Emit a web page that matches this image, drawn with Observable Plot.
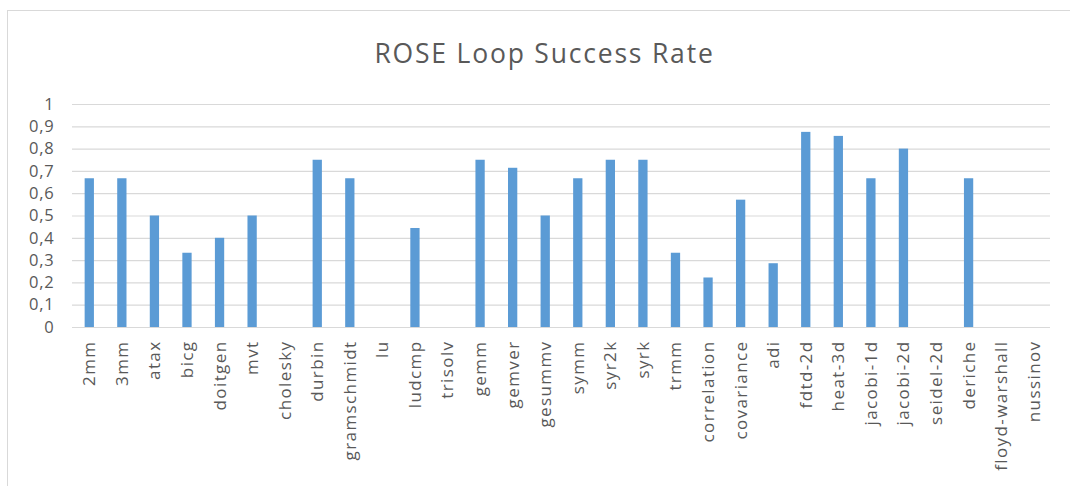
<!DOCTYPE html>
<html>
<head>
<meta charset="utf-8">
<script src="https://cdn.jsdelivr.net/npm/d3@7"></script>
<script src="https://cdn.jsdelivr.net/npm/@observablehq/plot@0.6"></script>
<style>
  html, body { margin: 0; padding: 0; background: #fff; overflow: hidden; }
  #wrap { position: relative; width: 1070px; height: 486px; }
  #border { position: absolute; left: 7px; top: 10px; width: 1100px; height: 500px;
            border: 1px solid #d9d9d9; box-sizing: border-box; }
  #chart { position: absolute; left: 0; top: 0; }
  .title-mark text { letter-spacing: 1.8px; }
  .x-ticks text { letter-spacing: 1.4px; }
  .y-ticks text { letter-spacing: 0.8px; }
</style>
</head>
<body>
<div id="wrap">
  <div id="border"></div>
  <div id="chart"></div>
</div>
<script>
// PolyBench kernels and the fraction of their loops ROSE handled successfully
const kernels = [
  "2mm", "3mm", "atax", "bicg", "doitgen", "mvt", "cholesky", "durbin",
  "gramschmidt", "lu", "ludcmp", "trisolv", "gemm", "gemver", "gesummv",
  "symm", "syr2k", "syrk", "trmm", "correlation", "covariance", "adi",
  "fdtd-2d", "heat-3d", "jacobi-1d", "jacobi-2d", "seidel-2d", "deriche",
  "floyd-warshall", "nussinov"
];
const successRate = [
  0.667, 0.667, 0.5, 0.333, 0.4, 0.5, 0, 0.75,
  0.667, 0, 0.444, 0, 0.75, 0.714, 0.5,
  0.667, 0.75, 0.75, 0.333, 0.222, 0.571, 0.286,
  0.875, 0.857, 0.667, 0.8, 0, 0.667,
  0, 0
];
const yTicks = [0, 0.1, 0.2, 0.3, 0.4, 0.5, 0.6, 0.7, 0.8, 0.9, 1];
const chartTitle = "ROSE Loop Success Rate";

const rows = kernels.map((k, i) => ({kernel: k, rate: successRate[i]}));
const fmt = v => String(+v.toFixed(1)).replace(".", ",");
const font = "'Open Sans', 'DejaVu Sans', sans-serif";
const textGray = "#595959";

const chart = Plot.plot({
  width: 1070,
  height: 486,
  marginTop: 104,
  marginBottom: 159,
  marginLeft: 72,
  marginRight: 20,
  style: {fontFamily: font, background: "transparent", overflow: "visible"},
  x: {domain: kernels, round: false, paddingInner: 0.715, paddingOuter: 0.3575,
      insetLeft: 1, label: null},
  y: {domain: [0, 1], label: null},
  marks: [
    Plot.ruleY(yTicks, {stroke: "#d9d9d9", strokeWidth: 1.2}),
    Plot.barY(rows, {x: "kernel", y: "rate", fill: "#5b9bd5"}),
    Plot.axisY({ticks: yTicks, tickFormat: fmt, tickSize: 0, tickPadding: 18,
                fontSize: 16.5, fill: textGray, label: null, className: "y-ticks"}),
    Plot.axisX({tickSize: 0, tickRotate: -90, tickPadding: 13, fontSize: 17,
                fill: textGray, label: null, className: "x-ticks"}),
    Plot.text([chartTitle], {frameAnchor: "top", lineAnchor: "bottom", dy: -42, dx: -17,
                             fontSize: 26.5, fill: textGray, fontFamily: font,
                             className: "title-mark"})
  ]
});
document.getElementById("chart").appendChild(chart);
</script>
</body>
</html>
